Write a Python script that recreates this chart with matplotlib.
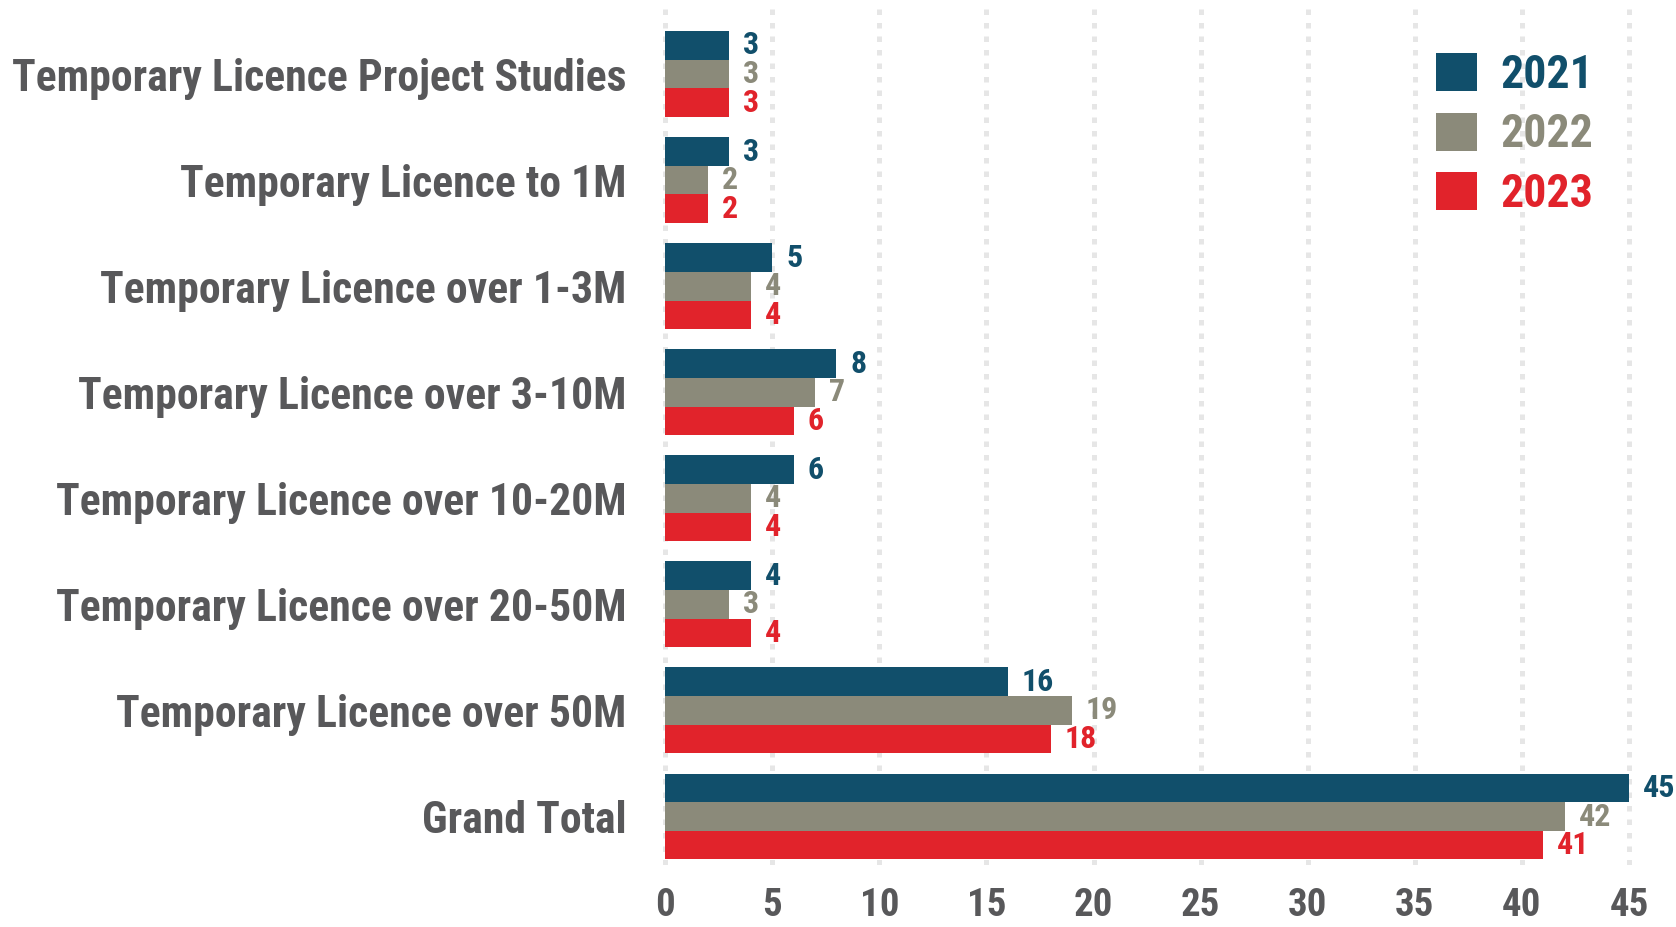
import matplotlib
matplotlib.use("Agg")
import matplotlib.pyplot as plt
import numpy as np

plt.rcParams['font.family'] = ['Roboto Condensed', 'DejaVu Sans']
plt.rcParams['font.weight'] = 'bold'

categories = [
    "Temporary Licence Project Studies",
    "Temporary Licence to 1M",
    "Temporary Licence over 1-3M",
    "Temporary Licence over 3-10M",
    "Temporary Licence over 10-20M",
    "Temporary Licence over 20-50M",
    "Temporary Licence over 50M",
    "Grand Total",
]
years = ["2021", "2022", "2023"]
values_2021 = [3, 3, 5, 8, 6, 4, 16, 45]
values_2022 = [3, 2, 4, 7, 4, 3, 19, 42]
values_2023 = [3, 2, 4, 6, 4, 4, 18, 41]
xticks = [0, 5, 10, 15, 20, 25, 30, 35, 40, 45]

colors = ["#114f6b", "#8b8a7a", "#e1232b"]
text_grey = "#58585a"

fig = plt.figure(figsize=(16.76, 9.27), dpi=100)
ax = fig.add_axes([0.393, 0.0669, 0.5828, 0.9255])

y = np.arange(len(categories))
bar_h = 0.27
series = [values_2021, values_2022, values_2023]
for k, (vals, col, yr) in enumerate(zip(series, colors, years)):
    pos = y + (k - 1) * bar_h
    ax.barh(pos, vals, height=bar_h, color=col, label=yr, zorder=3)
    for p, v in zip(pos, vals):
        ax.annotate(str(v), xy=(v, p), xytext=(10, 0), textcoords="offset points",
                    ha="left", va="center", color=col, fontsize=23, fontweight="bold")

ax.set_xlim(-0.3, 45.3)
ax.set_ylim(7.457, -0.632)
ax.set_yticks(y)
ax.set_yticklabels(categories, fontsize=31.5, color=text_grey, fontweight="bold")
ax.set_xticks(xticks)
ax.set_xticklabels([str(t) for t in xticks], fontsize=28, color=text_grey, fontweight="bold")
ax.tick_params(axis="both", length=0)
ax.tick_params(axis="y", pad=23)
ax.tick_params(axis="x", pad=16)
for s in ax.spines.values():
    s.set_visible(False)

for t in xticks:
    ax.axvline(t, color="#e6e6e6", lw=3.6, linestyle=(0, (1.1, 1.6)), zorder=1)

leg = ax.legend(loc="upper right", bbox_to_anchor=(0.976, 0.968), frameon=False,
                fontsize=33, handlelength=0.9, handleheight=0.9, handletextpad=0.52,
                labelspacing=0.34, borderaxespad=0.0)
for txt, col in zip(leg.get_texts(), colors):
    txt.set_color(col)
    txt.set_fontweight("bold")

fig.savefig("out.png", dpi=100)
